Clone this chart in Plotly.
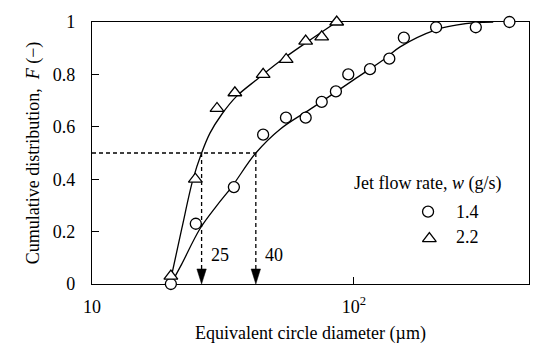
import numpy as np
import plotly.graph_objects as go

# ---------------- data ----------------
circle_x = [20.0, 24.9, 34.8, 45.0, 55.0, 65.4, 75.3, 85.3, 95.1, 115.1, 136.4, 155.0, 205.8, 291.7, 392.0]
circle_F = [0.0, 0.23, 0.37, 0.57, 0.635, 0.635, 0.695, 0.735, 0.80, 0.82, 0.86, 0.94, 0.98, 0.98, 1.0]

tri_x = [20.0, 24.8, 30.0, 35.1, 45.0, 55.1, 65.4, 75.3, 85.9]
tri_F = [0.03, 0.40, 0.67, 0.73, 0.80, 0.857, 0.927, 0.943, 1.0]

# fitted curves
circle_fit_x = [20.0, 22.0, 25.8, 30.0, 34.1, 42.2, 52.1, 70.0, 100.0, 130.0, 150.0, 205.0, 245.0, 292.0, 340.0]
circle_fit_F = [0.0, 0.076, 0.21, 0.30, 0.37, 0.50, 0.59, 0.675, 0.78, 0.857, 0.905, 0.97, 0.988, 0.998, 1.0]

tri_fit_x = [20.0, 22.0, 24.3, 26.2, 28.2, 31.2, 35.6, 42.5, 52.1, 65.0, 85.9]
tri_fit_F = [0.02, 0.21, 0.40, 0.50, 0.576, 0.646, 0.716, 0.78, 0.85, 0.918, 1.0]

# median (F = 0.5) markers
median_F = 0.5
median_x = [26.2, 42.2]
median_labels = ["25", "40"]

series_names = ["1.4", "2.2"]
legend_title = "Jet flow rate, <i>w</i> (g/s)"

x_tickvals = [10, 100]
x_ticktext = ["10", "10<sup>2</sup>"]
y_tickvals = [0, 0.2, 0.4, 0.6, 0.8, 1.0]
y_ticktext = ["0", "0.2", "0.4", "0.6", "0.8", "1"]

FONT = "Liberation Serif"
FS = 18
LW = 1.3

# arrow-head geometry (log-axis half width factor, height in F units)
HEAD_HALF = 10 ** (4.7 / 261.7)
HEAD_H = 15 / 261.5

fig = go.Figure()

# fitted curves
fig.add_trace(go.Scatter(x=circle_fit_x, y=circle_fit_F, mode="lines",
                         line=dict(color="black", width=LW, shape="spline", smoothing=1.0),
                         cliponaxis=False, showlegend=False, hoverinfo="skip"))
fig.add_trace(go.Scatter(x=tri_fit_x, y=tri_fit_F, mode="lines",
                         line=dict(color="black", width=LW, shape="spline", smoothing=1.0),
                         cliponaxis=False, showlegend=False, hoverinfo="skip"))

# dashed guide lines
fig.add_trace(go.Scatter(x=[10, max(median_x)], y=[median_F, median_F], mode="lines",
                         line=dict(color="black", width=LW, dash="4px,3px"),
                         showlegend=False, hoverinfo="skip"))
for mx in median_x:
    fig.add_trace(go.Scatter(x=[mx, mx], y=[median_F, HEAD_H], mode="lines",
                             line=dict(color="black", width=LW, dash="4px,3px"),
                             showlegend=False, hoverinfo="skip"))
    # filled arrow head pointing to the axis
    fig.add_trace(go.Scatter(x=[mx / HEAD_HALF, mx * HEAD_HALF, mx, mx / HEAD_HALF],
                             y=[HEAD_H, HEAD_H, 0, HEAD_H], mode="lines",
                             fill="toself", fillcolor="black",
                             line=dict(color="black", width=0.5),
                             cliponaxis=False, showlegend=False, hoverinfo="skip"))
for mx, lab in zip(median_x, median_labels):
    fig.add_annotation(x=np.log10(mx), y=0.11, xref="x", yref="y", text=lab,
                       showarrow=False, xanchor="left", yanchor="middle", xshift=7,
                       font=dict(family=FONT, size=FS, color="black"))

# data markers
fig.add_trace(go.Scatter(x=circle_x, y=circle_F, mode="markers", name=series_names[0],
                         marker=dict(symbol="circle", size=11, color="white",
                                     line=dict(color="black", width=LW)),
                         cliponaxis=False, showlegend=False))
fig.add_trace(go.Scatter(x=tri_x, y=tri_F, mode="markers", name=series_names[1],
                         marker=dict(symbol="triangle-up", size=12, color="white",
                                     line=dict(color="black", width=LW)),
                         cliponaxis=False, showlegend=False))

# hand-made legend on an overlay axis
fig.add_trace(go.Scatter(x=[0.769], y=[0.276], xaxis="x2", yaxis="y2", mode="markers",
                         marker=dict(symbol="circle", size=11, color="white",
                                     line=dict(color="black", width=LW)),
                         cliponaxis=False, showlegend=False, hoverinfo="skip"))
fig.add_trace(go.Scatter(x=[0.772], y=[0.173], xaxis="x2", yaxis="y2", mode="markers",
                         marker=dict(symbol="triangle-up", size=12, color="white",
                                     line=dict(color="black", width=LW)),
                         cliponaxis=False, showlegend=False, hoverinfo="skip"))
fig.add_annotation(x=0.596, y=0.385, xref="paper", yref="paper", text=legend_title,
                   showarrow=False, xanchor="left", yanchor="middle",
                   font=dict(family=FONT, size=FS, color="black"))
for yy, lab in zip([0.276, 0.178], series_names):
    fig.add_annotation(x=0.829, y=yy, xref="paper", yref="paper", text=lab,
                       showarrow=False, xanchor="left", yanchor="middle",
                       font=dict(family=FONT, size=FS, color="black"))

fig.update_layout(
    width=554, height=351,
    margin=dict(l=92, r=25, t=22, b=67),
    paper_bgcolor="white", plot_bgcolor="white",
    font=dict(family=FONT, size=FS, color="black"),
    showlegend=False,
    xaxis=dict(type="log", range=[1, 2.668], tickvals=x_tickvals, ticktext=x_ticktext,
               ticks="inside", ticklen=7, tickwidth=LW, tickcolor="black",
               showline=True, linecolor="black", linewidth=LW, mirror=True,
               showgrid=False, zeroline=False, layer="below traces",
               ticklabelstandoff=6,
               title=dict(text="Equivalent circle diameter (µm)", standoff=10,
                          font=dict(family=FONT, size=FS, color="black"))),
    yaxis=dict(range=[0, 1], tickvals=y_tickvals, ticktext=y_ticktext,
               ticks="inside", ticklen=7, tickwidth=LW, tickcolor="black",
               showline=True, linecolor="black", linewidth=LW, mirror=True,
               showgrid=False, zeroline=False, layer="below traces",
               ticklabelstandoff=12,
               title=dict(text="Cumulative distribution,  <i>F</i> (−)", standoff=8,
                          font=dict(family=FONT, size=FS, color="black"))),
    xaxis2=dict(overlaying="x", range=[0, 1], visible=False, anchor="y2"),
    yaxis2=dict(overlaying="y", range=[0, 1], visible=False, anchor="x2"),
)

fig.write_html("out.html")
